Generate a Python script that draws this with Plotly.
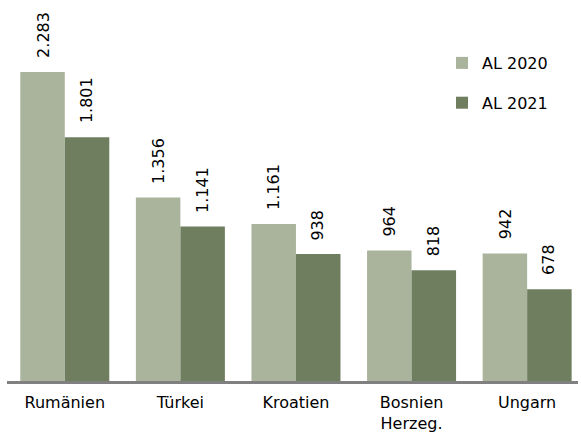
import plotly.graph_objects as go

categories = ["Rumänien", "Türkei", "Kroatien", "Bosnien<br>Herzeg.", "Ungarn"]
series_names = ["AL 2020", "AL 2021"]
values_2020 = [2283, 1356, 1161, 964, 942]
values_2021 = [1801, 1141, 938, 818, 678]
colors = ["#aab49d", "#707e60"]

FONT = "DejaVu Sans"
W, H = 581, 434

def fmt(v):
    return f"{v:,}".replace(",", ".")

fig = go.Figure()
for name, vals, col in zip(series_names, [values_2020, values_2021], colors):
    fig.add_trace(go.Bar(
        x=categories, y=vals, name=name, marker=dict(color=col, line=dict(width=0)),
        legendgroup=name,
    ))

annotations = []
for vals, shift in [(values_2020, -22), (values_2021, 22)]:
    for c, v in zip(categories, vals):
        annotations.append(dict(
            x=c, y=v, xref="x", yref="y", text=fmt(v), showarrow=False,
            textangle=-90, xanchor="center", yanchor="bottom",
            xshift=shift, yshift=12,
            font=dict(family=FONT, size=16, color="#000000"),
        ))

fig.update_layout(
    width=W, height=H,
    margin=dict(l=7, r=3, t=10, b=53, autoexpand=False),
    paper_bgcolor="white", plot_bgcolor="white",
    barmode="group", bargap=0.23, bargroupgap=0,
    font=dict(family=FONT, size=16, color="#000000"),
    showlegend=True,
    legend=dict(
        x=(442 - 7) / (W - 10), xanchor="left",
        y=1 - (46 - 10) / (H - 63), yanchor="top",
        font=dict(family=FONT, size=16),
        tracegroupgap=16, bgcolor="rgba(0,0,0,0)",
    ),
    annotations=annotations,
    xaxis=dict(
        range=[-0.5, 4.44], showline=True, linecolor="#808080", linewidth=3,
        ticks="", showgrid=False, zeroline=False, automargin=False,
        ticklabelstandoff=5,
        tickfont=dict(family=FONT, size=16, color="#000000"),
    ),
    yaxis=dict(
        range=[0, 2742], visible=False, showgrid=False, zeroline=False,
        automargin=False,
    ),
)

fig.write_html(
    "out.html",
    config={"displayModeBar": False},
    post_script="document.body.style.margin='0';document.body.style.padding='0';",
)
